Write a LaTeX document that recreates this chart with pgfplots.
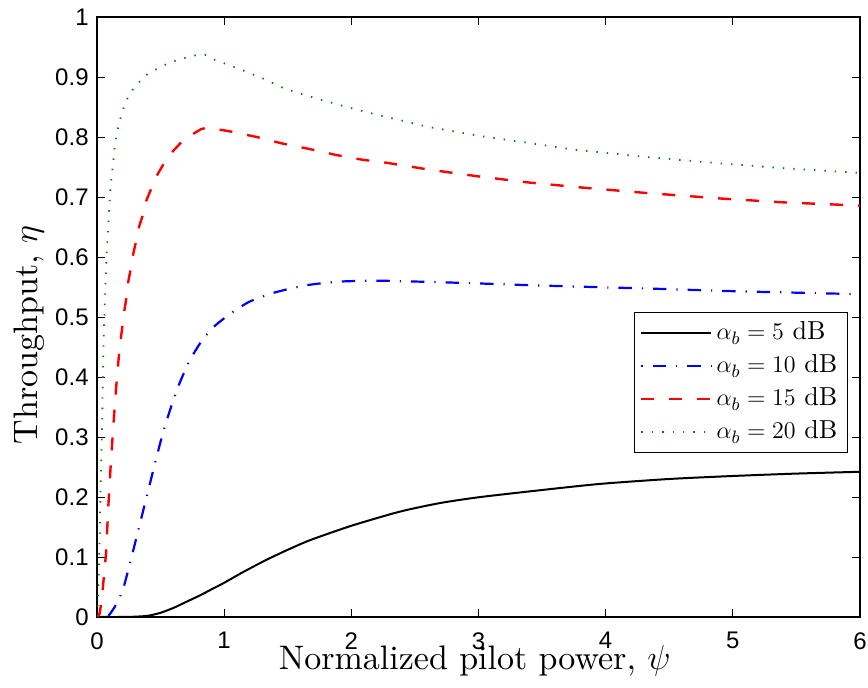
\documentclass[border=0pt]{standalone}
\usepackage{fontspec}
\setsansfont{Liberation Sans}
\newfontfamily\cmten{lmroman10-regular.otf}
\usepackage{pgfplots}
\pgfplotsset{compat=1.18}
\definecolor{mgreen}{rgb}{0,0.5,0}
\begin{document}
\begin{tikzpicture}
\path[use as bounding box] (-48.5pt,-35.5pt) rectangle (385.5pt,308.5pt);
\begin{axis}[
  at={(0,0)}, anchor=south west,
  scale only axis, width=381.5pt, height=300pt,
  xmin=0, xmax=6, ymin=0, ymax=1,
  xtick={0,1,2,3,4,5,6},
  ytick={0,0.1,0.2,0.3,0.4,0.5,0.6,0.7,0.8,0.9,1},
  yticklabels={0,0.1,0.2,0.3,0.4,0.5,0.6,0.7,0.8,0.9,1},
  xticklabels={0,1,2,3,4,5,6},
  tick align=inside, major tick length=3.8pt,
  xtick pos=both, ytick pos=both,
  tick style={black, line width=0.4pt},
  axis line style={black, line width=0.6pt},
  ticklabel style={font=\sffamily\fontsize{12}{14}\selectfont, inner sep=0pt},
  xticklabel style={yshift=-7.5pt},
  yticklabel style={xshift=-4pt},
  /pgf/number format/assume math mode=true,
  xlabel={Normalized pilot power, $\psi$},
  ylabel={Throughput, $\eta$},
  xlabel style={font=\cmten\fontsize{17}{20}\selectfont, at={(axis description cs:0.495,-0.088)}, anchor=base, inner sep=0pt},
  ylabel style={font=\cmten\fontsize{17}{20}\selectfont, at={(axis description cs:-0.0786,0.47)}, anchor=base, inner sep=0pt},
  legend style={at={(rel axis cs:0.984,0.508)}, anchor=north east,
    draw=black, line width=0.6pt, fill=white,
    font=\cmten\fontsize{13}{15}\selectfont,
    inner xsep=3pt, inner ysep=2pt, row sep=0pt,
    nodes={text height=10pt, text depth=3.5pt, inner ysep=1.5pt, inner xsep=2pt}},
  legend cell align=left,
  legend image code/.code={\draw[#1] (0pt,0pt) -- (35pt,0pt);},
]
\addplot[black, line width=1pt, smooth, tension=0.4] coordinates {
(0,0) (0.2,0) (0.3,0.0005) (0.4,0.002) (0.5,0.007) (0.6,0.015) (0.7,0.025)
(0.81,0.036) (0.9,0.046) (1.0,0.057) (1.15,0.075) (1.33,0.095) (1.5,0.112)
(1.675,0.128) (2.0,0.152) (2.38,0.1755) (2.7,0.19) (3.0,0.1995) (3.43,0.21)
(3.95,0.2217) (4.5,0.23) (5,0.235) (5.5,0.239) (6,0.242)
};
\addlegendentry{$\alpha_b=5$ dB}
\addplot[blue, line width=1.1pt, smooth, tension=0.4, dash pattern=on 6.7pt off 5pt on 0.6pt off 5pt, dash phase=11.7pt] coordinates {
(0,0) (0.05,0) (0.09,0.002) (0.14,0.017) (0.181,0.034) (0.21,0.05) (0.26,0.09)
(0.325,0.145) (0.39,0.2) (0.456,0.256) (0.52,0.308) (0.587,0.353) (0.65,0.39)
(0.73,0.428) (0.82,0.459) (0.91,0.482) (1.045,0.505) (1.2,0.5256) (1.4,0.541)
(1.65,0.553) (1.91,0.559) (2.2,0.5605) (2.46,0.5593) (2.72,0.5578) (2.99,0.556)
(3.4,0.553) (3.81,0.5505) (4.4,0.547) (5,0.543) (5.5,0.5405) (6,0.538)
};
\addlegendentry{$\alpha_b=10$ dB}
\addplot[red, line width=1.2pt, dash pattern=on 6.5pt off 7.5pt] coordinates {
(0,0) (0.02,0.005) (0.037,0.028) (0.071,0.106) (0.089,0.184) (0.107,0.25)
(0.128,0.317) (0.149,0.378) (0.176,0.445) (0.216,0.512) (0.233,0.534)
(0.246,0.559) (0.265,0.58) (0.286,0.606) (0.307,0.626) (0.33,0.65) (0.362,0.671)
(0.39,0.695) (0.43,0.7155) (0.477,0.738) (0.529,0.757) (0.6,0.777) (0.671,0.793)
(0.77,0.807) (0.818,0.813) (0.862,0.8155) (0.91,0.814) (1.03,0.81) (1.255,0.8)
(1.46,0.789) (1.67,0.78) (1.88,0.77) (2.09,0.762) (2.278,0.757) (2.6,0.746)
(3.01,0.734) (3.4,0.724) (3.8,0.716) (4.3,0.707) (4.9,0.6975) (5.4,0.691)
(5.96,0.686) (6,0.6855)
};
\addlegendentry{$\alpha_b=15$ dB}
\addplot[mgreen, line width=0.9pt, dash pattern=on 0.7pt off 4.5pt] coordinates {
(0,0) (0.01,0.04) (0.018,0.11) (0.024,0.167) (0.029,0.217) (0.037,0.29)
(0.042,0.345) (0.05,0.445) (0.058,0.5) (0.066,0.55) (0.076,0.603) (0.084,0.638)
(0.094,0.673) (0.102,0.703) (0.11,0.725) (0.12,0.743) (0.128,0.76) (0.136,0.778)
(0.149,0.796) (0.163,0.813) (0.183,0.83) (0.207,0.847) (0.236,0.863)
(0.278,0.878) (0.33,0.891) (0.393,0.904) (0.464,0.9125) (0.537,0.9205)
(0.613,0.9267) (0.694,0.932) (0.773,0.936) (0.85,0.937) (0.93,0.928)
(1.01,0.922) (1.16,0.91) (1.31,0.897) (1.47,0.881) (1.62,0.871) (1.78,0.861)
(1.93,0.852) (2.09,0.843) (2.265,0.834) (2.6,0.817) (3.01,0.8017) (3.4,0.79)
(3.745,0.779) (4.3,0.767) (4.9,0.756) (5.4,0.748) (5.97,0.7405) (6,0.74)
};
\addlegendentry{$\alpha_b=20$ dB}
\end{axis}
\end{tikzpicture}
\end{document}
